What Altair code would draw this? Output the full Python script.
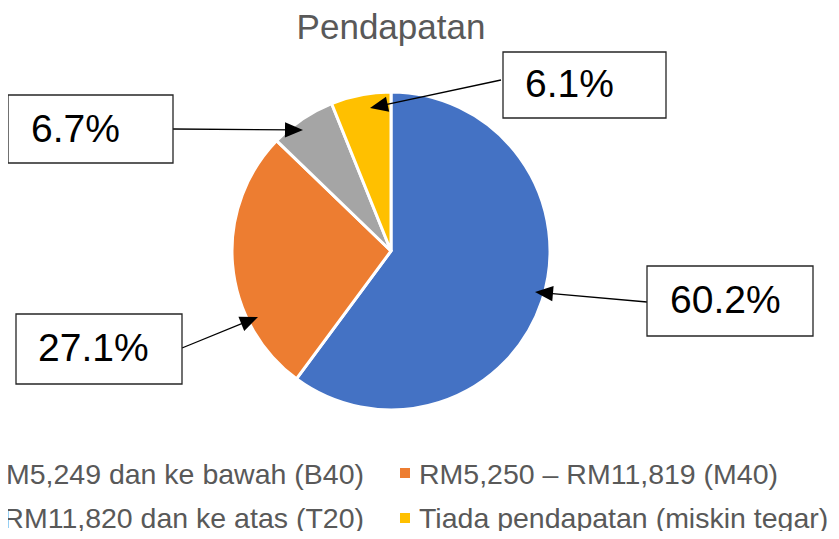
import math
import altair as alt
import pandas as pd

# ---- data ----
categories = [
    "RM5,249 dan ke bawah (B40)",
    "RM5,250 – RM11,819 (M40)",
    "RM11,820 dan ke atas (T20)",
    "Tiada pendapatan (miskin tegar)",
]
values = [60.2, 27.1, 6.7, 6.1]
colors = ["#4472C4", "#ED7D31", "#A5A5A5", "#FFC000"]
title_text = "Pendapatan"

# ---- layout (page pixel coordinates; page has 8px margin) ----
M = 8
W, H = 823, 523
FONT = "Liberation Sans"


def px(v):
    return v - M


PIE_CX, PIE_CY, PIE_R = 391, 251, 159

# per category: box (x0, y0, x1, y1), text (x, baseline), arrow start, arrow tip
callouts = [
    dict(box=(647, 266, 813, 336), text=(670, 313), start=(647, 302), tip=(535, 292)),
    dict(box=(16, 314, 182, 384), text=(38, 361), start=(182, 348), tip=(258, 317)),
    dict(box=(8, 95, 173, 163), text=(31, 142), start=(173, 129), tip=(303, 130)),
    dict(box=(503, 52, 666, 118), text=(525, 97), start=(501, 80), tip=(370, 108)),
]
HEAD = 9  # half length of arrow head

# legend layout: (symbol x, text x, align, row baseline, symbol y)
legend_pos = [
    (-30, 364, "right", 484, 473),
    (405, 419, "left", 484, 473),
    (-30, 364, "right", 528, 518),
    (405, 419, "left", 528, 518),
]
LEG_FS = 28.5

# ---- tables ----
pie_df = pd.DataFrame({"cat": categories, "value": values, "order": list(range(len(values)))})

rows = []
for cat, v, c in zip(categories, values, callouts):
    sx, sy = c["start"]
    tx, ty = c["tip"]
    dx, dy = tx - sx, ty - sy
    L = math.hypot(dx, dy)
    ux, uy = dx / L, dy / L
    hx, hy = tx - HEAD * ux, ty - HEAD * uy
    ang = math.degrees(math.atan2(dx, -dy)) % 360
    rows.append(dict(
        cat=cat, label=f"{v}%",
        bx0=px(c["box"][0]), by0=px(c["box"][1]), bx1=px(c["box"][2]), by1=px(c["box"][3]),
        tx=px(c["text"][0]), ty=px(c["text"][1]),
        sx=px(sx), sy=px(sy), hx=px(hx), hy=px(hy), ang=ang,
    ))
ann_df = pd.DataFrame(rows)

leg_df = pd.DataFrame([
    dict(cat=cat, order=i, symx=px(p[0]), textx=px(p[1]), align=p[2], ty=px(p[3]), symy=px(p[4]))
    for i, (cat, p) in enumerate(zip(categories, legend_pos))
])

color_scale = alt.Scale(domain=categories, range=colors)

pie = alt.Chart(pie_df).mark_arc(outerRadius=PIE_R, stroke="white", strokeWidth=3).encode(
    theta=alt.Theta("value:Q", stack=True),
    color=alt.Color("cat:N", scale=color_scale, legend=None),
    order=alt.Order("order:Q"),
    x=alt.value(px(PIE_CX)),
    y=alt.value(px(PIE_CY)),
)

base_ann = alt.Chart(ann_df)

boxes = base_ann.mark_rect(fill="white", stroke="#262626", strokeWidth=1.3).encode(
    x=alt.X("bx0:Q", scale=None, axis=None),
    x2="bx1:Q",
    y=alt.Y("by0:Q", scale=None, axis=None),
    y2="by1:Q",
)

box_text = base_ann.mark_text(
    align="left", baseline="alphabetic", fontSize=39, font=FONT, color="black"
).encode(
    x=alt.X("tx:Q", scale=None),
    y=alt.Y("ty:Q", scale=None),
    text="label:N",
)

lines = base_ann.mark_rule(color="black", strokeWidth=1.3).encode(
    x=alt.X("sx:Q", scale=None),
    y=alt.Y("sy:Q", scale=None),
    x2="hx:Q",
    y2="hy:Q",
)

heads = base_ann.mark_point(
    shape="M0,-1L0.85,1L-0.85,1Z", filled=True, size=(2 * HEAD) ** 2,
    color="black", opacity=1, strokeWidth=0,
).encode(
    x=alt.X("hx:Q", scale=None),
    y=alt.Y("hy:Q", scale=None),
    angle=alt.Angle("ang:Q", scale=None),
)

title = alt.Chart(pd.DataFrame({"t": [title_text]})).mark_text(
    align="center", baseline="alphabetic", fontSize=35, font=FONT, color="#595959"
).encode(
    x=alt.value(px(391)),
    y=alt.value(px(39)),
    text="t:N",
)

base_leg = alt.Chart(leg_df)
leg_sym = base_leg.mark_square(size=100, opacity=1).encode(
    x=alt.X("symx:Q", scale=None),
    y=alt.Y("symy:Q", scale=None),
    color=alt.Color("cat:N", scale=color_scale, legend=None),
)
leg_text_r = base_leg.transform_filter(alt.datum.align == "right").mark_text(
    align="right", baseline="alphabetic", fontSize=LEG_FS, font=FONT, color="#595959"
).encode(
    x=alt.X("textx:Q", scale=None),
    y=alt.Y("ty:Q", scale=None),
    text="cat:N",
)
leg_text_l = base_leg.transform_filter(alt.datum.align == "left").mark_text(
    align="left", baseline="alphabetic", fontSize=LEG_FS, font=FONT, color="#595959"
).encode(
    x=alt.X("textx:Q", scale=None),
    y=alt.Y("ty:Q", scale=None),
    text="cat:N",
)

chart = alt.layer(
    pie, lines, heads, boxes, box_text, title, leg_sym, leg_text_r, leg_text_l
).resolve_scale(color="shared").properties(
    width=W, height=H, autosize="none", padding=0
).configure_view(stroke=None)

chart.save("out.html", embed_options={"renderer": "svg", "actions": False})
